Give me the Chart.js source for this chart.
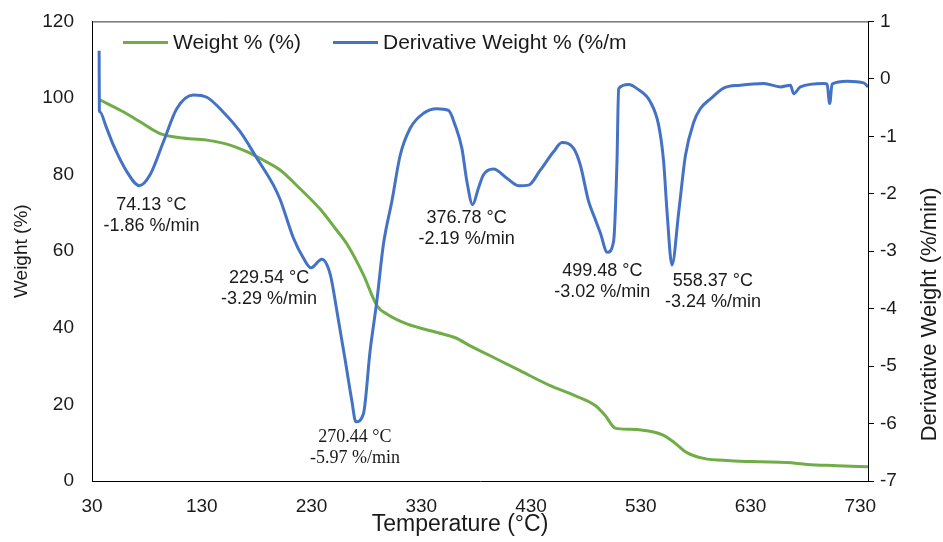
<!DOCTYPE html>
<html>
<head>
<meta charset="utf-8">
<script src="https://cdn.jsdelivr.net/npm/chart.js@4.4.1/dist/chart.umd.min.js"></script>
<style>
html,body{margin:0;padding:0;background:#fff;}
#c{display:block;}
</style>
</head>
<body>
<canvas id="c" width="943" height="542"></canvas>
<script>
// ---- data ----
const seriesNames = ["Weight % (%)", "Derivative Weight % (%/m"];
const axisTitles = ["Temperature (°C)", "Weight (%)", "Derivative Weight (%/min)"];
const xTicks = [30, 130, 230, 330, 430, 530, 630, 730];
const weightTemps = [36.7, 58.5, 73.8, 92.0, 110.2, 134.6, 155.8, 171.0, 185.9, 201.4, 219.6, 237.8, 251.5, 262.4, 277.0, 289.8, 298.6, 316.9, 345.4, 361.0, 374.6, 392.8, 420.0, 447.5, 470.0, 488.5, 497.6, 506.8, 520.4, 541.7, 550.8, 559.9, 572.0, 587.3, 611.6, 639.0, 663.3, 681.5, 708.8, 737.0];
const weightValues = [99.6, 96.4, 93.8, 90.7, 89.6, 89.0, 87.7, 86.0, 83.8, 81.2, 76.3, 71.0, 66.0, 61.8, 54.0, 45.7, 43.6, 41.0, 38.7, 37.4, 35.3, 32.7, 28.8, 24.9, 22.3, 19.7, 17.1, 13.8, 13.5, 12.8, 11.9, 10.2, 7.4, 5.9, 5.3, 5.0, 4.8, 4.3, 4.0, 3.7];
const derivTemps = [36.5, 36.7, 37.2, 43.0, 49.4, 61.6, 73.1, 82.9, 95.0, 107.2, 122.3, 134.6, 149.7, 165.0, 180.2, 195.3, 201.4, 213.5, 222.6, 229.5, 239.4, 247.0, 253.1, 260.7, 266.7, 270.4, 277.3, 283.4, 289.5, 295.5, 303.2, 310.8, 319.9, 332.0, 344.2, 354.8, 360.9, 367.0, 371.6, 376.8, 382.1, 386.7, 395.8, 408.0, 418.6, 427.7, 438.4, 450.5, 458.2, 468.8, 474.9, 482.4, 488.0, 493.1, 499.5, 505.2, 508.3, 509.8, 518.9, 526.5, 538.7, 546.3, 550.8, 553.9, 558.4, 564.6, 570.7, 578.3, 584.2, 593.4, 605.5, 620.7, 642.0, 657.2, 666.3, 669.3, 675.4, 696.6, 699.7, 702.1, 704.3, 718.0, 733.1, 737.0];
const derivValues = [0.49, -0.55, -0.575, -0.84, -1.15, -1.61, -1.86, -1.67, -1.10, -0.52, -0.28, -0.32, -0.58, -0.92, -1.38, -1.85, -2.10, -2.77, -3.12, -3.29, -3.14, -3.40, -4.04, -4.90, -5.60, -5.97, -5.83, -4.73, -3.87, -2.88, -2.13, -1.33, -0.86, -0.60, -0.52, -0.55, -0.81, -1.21, -1.79, -2.19, -1.90, -1.67, -1.57, -1.73, -1.86, -1.85, -1.59, -1.27, -1.11, -1.21, -1.50, -2.13, -2.42, -2.68, -3.02, -2.83, -1.44, -0.17, -0.10, -0.17, -0.40, -0.81, -1.44, -2.31, -3.24, -2.31, -1.33, -0.75, -0.52, -0.35, -0.16, -0.11, -0.08, -0.14, -0.11, -0.26, -0.14, -0.08, -0.09, -0.43, -0.09, -0.04, -0.07, -0.14];
const peakTemps = [74.13, 229.54, 270.44, 376.78, 499.48, 558.37];
const peakRates = [-1.86, -3.29, -5.97, -2.19, -3.02, -3.24];

// ---- build ----
const weightData = weightTemps.map((t, i) => ({x: t, y: weightValues[i]}));
const derivData = derivTemps.map((t, i) => ({x: t, y: derivValues[i]}));

const TXT = '#1a1a1a';
const SANS = "'Liberation Sans', Arial, sans-serif";
const SERIF = "'Liberation Serif', 'Times New Roman', serif";

// label placement relative to each peak (pixels)
const labelStyle = [
  {dx: 11, dy: 19, font: SANS},
  {dx: -42, dy: 10, font: SANS},
  {dx: -1, dy: 15, font: SERIF},
  {dx: -6, dy: 13, font: SANS},
  {dx: -5, dy: 19, font: SANS},
  {dx: 41, dy: 16, font: SANS}
];

const decoPlugin = {
  id: 'deco',
  beforeDatasetsDraw(chart) {
    const {ctx, chartArea} = chart;
    ctx.save();
    ctx.strokeStyle = '#333';
    ctx.lineWidth = 1;
    ctx.beginPath();
    ctx.moveTo(chartArea.left, chartArea.top + 0.5);
    ctx.lineTo(chartArea.right, chartArea.top + 0.5);
    ctx.stroke();
    ctx.restore();
  },
  afterDatasetsDraw(chart) {
    const {ctx, chartArea, scales} = chart;
    ctx.save();
    // peak annotations
    ctx.fillStyle = TXT;
    ctx.textAlign = 'center';
    ctx.textBaseline = 'middle';
    peakTemps.forEach((t, i) => {
      const st = labelStyle[i];
      const px = scales.x.getPixelForValue(t) + st.dx;
      const py = scales.y1.getPixelForValue(peakRates[i]) + st.dy;
      ctx.font = '18px ' + st.font;
      ctx.fillText(t.toFixed(2) + ' °C', px, py);
      ctx.fillText(peakRates[i].toFixed(2) + ' %/min', px, py + 21);
    });
    // axis titles
    ctx.font = '23px ' + SANS;
    ctx.fillText(axisTitles[0], chartArea.left + 368, chartArea.bottom + 44);
    ctx.save();
    ctx.translate(22, (chartArea.top + chartArea.bottom) / 2);
    ctx.rotate(-Math.PI / 2);
    ctx.font = '19px ' + SANS;
    ctx.fillText(axisTitles[1], 0, 0);
    ctx.restore();
    ctx.save();
    ctx.translate(930, chartArea.top + 293);
    ctx.rotate(-Math.PI / 2);
    ctx.font = '22px ' + SANS;
    ctx.fillText(axisTitles[2], 0, 0);
    ctx.restore();
    // legend
    const ly = chartArea.top + 21;
    const items = [
      {x0: chartArea.left + 31, ds: chart.data.datasets[0]},
      {x0: chartArea.left + 241, ds: chart.data.datasets[1]}
    ];
    ctx.textAlign = 'left';
    ctx.font = '21px ' + SANS;
    items.forEach(it => {
      ctx.strokeStyle = it.ds.borderColor;
      ctx.lineWidth = 3;
      ctx.beginPath();
      ctx.moveTo(it.x0, ly);
      ctx.lineTo(it.x0 + 45, ly);
      ctx.stroke();
      ctx.fillStyle = TXT;
      ctx.fillText(it.ds.label, it.x0 + 50, ly + 1);
    });
    ctx.restore();
  }
};

new Chart(document.getElementById('c'), {
  type: 'line',
  data: {
    datasets: [
      {label: seriesNames[0], data: weightData, yAxisID: 'y', borderColor: '#70AD47', borderWidth: 3, pointRadius: 0, cubicInterpolationMode: 'monotone', order: 2, fill: false},
      {label: seriesNames[1], data: derivData, yAxisID: 'y1', borderColor: '#4472C4', borderWidth: 3, pointRadius: 0, cubicInterpolationMode: 'monotone', order: 1, fill: false}
    ]
  },
  options: {
    responsive: false,
    animation: false,
    layout: {padding: {top: 9, left: 0, right: 0, bottom: 0}},
    plugins: {legend: {display: false}, tooltip: {enabled: false}},
    scales: {
      x: {
        type: 'linear', min: 30, max: 737,
        afterBuildTicks: s => { s.ticks = xTicks.map(v => ({value: v})); },
        afterFit: s => { s.height = 61; },
        grid: {display: false},
        border: {display: true, color: '#000', width: 1},
        ticks: {color: TXT, font: {family: SANS, size: 19}, padding: 6, maxRotation: 0, autoSkip: false}
      },
      y: {
        position: 'left', min: 0, max: 120,
        afterFit: s => { s.width = 92; },
        grid: {display: false},
        border: {display: true, color: '#000', width: 1},
        ticks: {stepSize: 20, color: TXT, font: {family: SANS, size: 19}, padding: 10}
      },
      y1: {
        position: 'right', min: -7, max: 1,
        afterFit: s => { s.width = 75; },
        grid: {display: true, drawOnChartArea: false, drawTicks: true, tickLength: 6, color: '#000'},
        border: {display: true, color: '#000', width: 1},
        ticks: {stepSize: 1, color: TXT, font: {family: SANS, size: 19}, padding: 6}
      }
    }
  },
  plugins: [decoPlugin]
});
</script>
</body>
</html>
